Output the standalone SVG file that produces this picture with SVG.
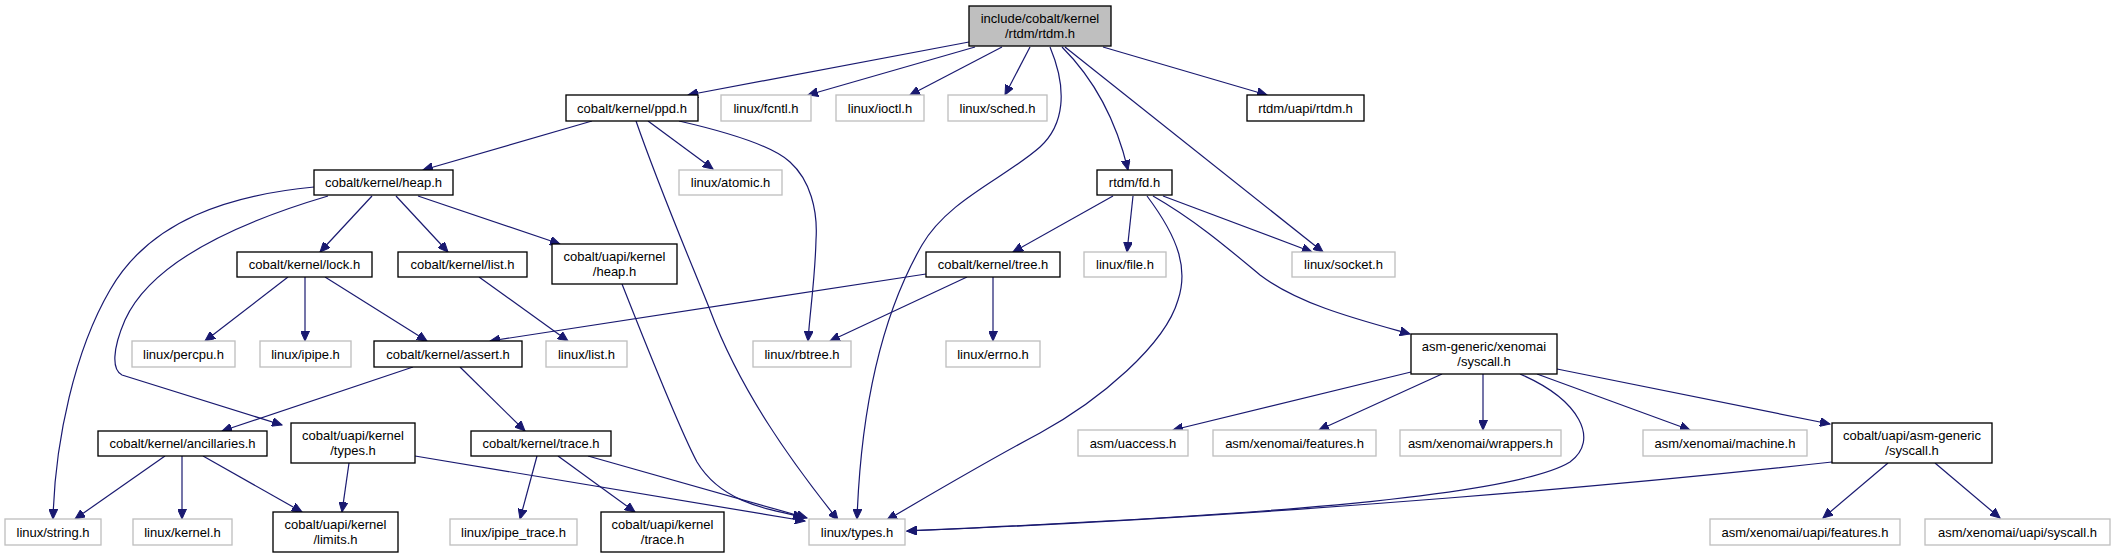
<svg xmlns="http://www.w3.org/2000/svg" width="2115" height="559" viewBox="0 0 2115 559">
<style>
text{font-family:"Liberation Sans",Arial,Helvetica,sans-serif;font-size:13px;fill:#000;text-anchor:middle}
.n rect{fill:#fff;stroke:#000;stroke-width:1.33}
.g rect{fill:#fff;stroke:#bfbfbf;stroke-width:1.33}
.top rect{fill:#bfbfbf;stroke:#000;stroke-width:1.33}
#edges path{fill:none;stroke:#191970;stroke-width:1.2;marker-end:url(#ah)}
</style>
<defs>
<marker id="ah" markerUnits="userSpaceOnUse" markerWidth="11" markerHeight="9" refX="10" refY="4.5" orient="auto">
<path d="M0,0 L10,4.5 L0,9 z" fill="#191970" stroke="#191970" stroke-width="1"/>
</marker>
</defs>
<rect width="2115" height="559" fill="#fff"/>
<g id="edges">
<path d="M969,42 L688,95"/>
<path d="M975,47 L808,95"/>
<path d="M1002,47 L910,95"/>
<path d="M1030,47 L1005,95"/>
<path d="M1050,47 C1068,90 1064,125 1040,147 C1005,178 948,200 922,245 C892,297 862,380 857,519"/>
<path d="M1062,47 C1090,75 1115,115 1128,170"/>
<path d="M1065,47 L1323,252"/>
<path d="M1103,47 L1267,95"/>
<path d="M592,121 L423,170"/>
<path d="M636,121 C660,190 690,260 710,310 C740,390 790,460 838,520"/>
<path d="M648,121 L713,169"/>
<path d="M679,121 C740,135 775,148 790,162 C810,180 818,210 816,240 C815,280 810,310 808,341"/>
<path d="M314,187 C230,195 150,220 110,290 C75,350 55,440 53,519"/>
<path d="M328,196 C230,225 150,265 125,320 C112,350 112,370 122,375 L282,425"/>
<path d="M372,196 L320,252"/>
<path d="M396,196 L448,252"/>
<path d="M418,196 L560,244"/>
<path d="M288,277 L205,341"/>
<path d="M305,277 L305,341"/>
<path d="M325,277 L427,341"/>
<path d="M479,277 L568,341"/>
<path d="M622,284 C650,355 680,430 697,462 C720,500 760,508 803,517"/>
<path d="M1113,196 L1013,252"/>
<path d="M1133,196 L1127,252"/>
<path d="M1147,196 C1180,240 1188,270 1178,300 C1165,345 1100,400 1040,433 C980,465 930,495 887,520"/>
<path d="M1153,196 C1195,220 1230,250 1260,275 C1300,305 1360,320 1410,334"/>
<path d="M1163,196 L1312,252"/>
<path d="M926,274 L490,341"/>
<path d="M967,277 L830,341"/>
<path d="M993,277 L993,341"/>
<path d="M413,367 L222,431"/>
<path d="M460,367 L525,431"/>
<path d="M165,456 L75,519"/>
<path d="M182,456 L182,519"/>
<path d="M203,456 L302,512"/>
<path d="M349,463 L342,512"/>
<path d="M415,456 L805,521"/>
<path d="M537,456 L520,519"/>
<path d="M558,456 L635,512"/>
<path d="M588,456 L807,518"/>
<path d="M1411,372 L1173,430"/>
<path d="M1442,374 L1319,430"/>
<path d="M1483,374 L1483,430"/>
<path d="M1537,374 L1690,430"/>
<path d="M1557,369 L1830,424"/>
<path d="M1520,374 C1580,400 1600,440 1570,462 C1500,505 1100,522 907,531"/>
<path d="M1832,462 C1650,482 1300,515 907,531"/>
<path d="M1888,463 L1823,518"/>
<path d="M1935,463 L2000,518"/>
</g>
<g id="n_rtdm" class="top"><rect x="969" y="6" width="142" height="40"/><text x="1040" y="22.5">include/cobalt/kernel</text><text x="1040" y="37.5">/rtdm/rtdm.h</text></g>
<g id="n_ppd" class="n"><rect x="566" y="95" width="132" height="26"/><text x="632" y="112.5">cobalt/kernel/ppd.h</text></g>
<g id="n_fcntl" class="g"><rect x="721" y="95" width="90" height="26"/><text x="766" y="112.5">linux/fcntl.h</text></g>
<g id="n_ioctl" class="g"><rect x="836" y="95" width="88" height="26"/><text x="880" y="112.5">linux/ioctl.h</text></g>
<g id="n_sched" class="g"><rect x="948" y="95" width="99" height="26"/><text x="997.5" y="112.5">linux/sched.h</text></g>
<g id="n_uapirtdm" class="n"><rect x="1247" y="95" width="117" height="26"/><text x="1305.5" y="112.5">rtdm/uapi/rtdm.h</text></g>
<g id="n_heap" class="n"><rect x="314" y="170" width="139" height="25"/><text x="383.5" y="187">cobalt/kernel/heap.h</text></g>
<g id="n_atomic" class="g"><rect x="679" y="170" width="103" height="25"/><text x="730.5" y="187">linux/atomic.h</text></g>
<g id="n_fd" class="n"><rect x="1097" y="170" width="75" height="25"/><text x="1134.5" y="187">rtdm/fd.h</text></g>
<g id="n_lock" class="n"><rect x="237" y="252" width="135" height="25"/><text x="304.5" y="269">cobalt/kernel/lock.h</text></g>
<g id="n_list" class="n"><rect x="398" y="252" width="129" height="25"/><text x="462.5" y="269">cobalt/kernel/list.h</text></g>
<g id="n_uapiheap" class="n"><rect x="552" y="244" width="125" height="40"/><text x="614.5" y="260.5">cobalt/uapi/kernel</text><text x="614.5" y="275.5">/heap.h</text></g>
<g id="n_tree" class="n"><rect x="926" y="252" width="134" height="25"/><text x="993" y="269">cobalt/kernel/tree.h</text></g>
<g id="n_file" class="g"><rect x="1084" y="252" width="82" height="25"/><text x="1125" y="269">linux/file.h</text></g>
<g id="n_socket" class="g"><rect x="1292" y="252" width="103" height="25"/><text x="1343.5" y="269">linux/socket.h</text></g>
<g id="n_percpu" class="g"><rect x="132" y="341" width="103" height="26"/><text x="183.5" y="358.5">linux/percpu.h</text></g>
<g id="n_ipipe" class="g"><rect x="260" y="341" width="91" height="26"/><text x="305.5" y="358.5">linux/ipipe.h</text></g>
<g id="n_assert" class="n"><rect x="374" y="341" width="148" height="26"/><text x="448" y="358.5">cobalt/kernel/assert.h</text></g>
<g id="n_llist" class="g"><rect x="546" y="341" width="81" height="26"/><text x="586.5" y="358.5">linux/list.h</text></g>
<g id="n_rbtree" class="g"><rect x="753" y="341" width="98" height="26"/><text x="802" y="358.5">linux/rbtree.h</text></g>
<g id="n_errno" class="g"><rect x="946" y="341" width="94" height="26"/><text x="993" y="358.5">linux/errno.h</text></g>
<g id="n_syscall" class="n"><rect x="1411" y="334" width="146" height="40"/><text x="1484" y="350.5">asm-generic/xenomai</text><text x="1484" y="365.5">/syscall.h</text></g>
<g id="n_anc" class="n"><rect x="98" y="431" width="169" height="25"/><text x="182.5" y="448">cobalt/kernel/ancillaries.h</text></g>
<g id="n_uapitypes" class="n"><rect x="291" y="423" width="124" height="40"/><text x="353" y="439.5">cobalt/uapi/kernel</text><text x="353" y="454.5">/types.h</text></g>
<g id="n_trace" class="n"><rect x="471" y="431" width="140" height="25"/><text x="541" y="448">cobalt/kernel/trace.h</text></g>
<g id="n_uaccess" class="g"><rect x="1078" y="430" width="110" height="26"/><text x="1133" y="447.5">asm/uaccess.h</text></g>
<g id="n_features" class="g"><rect x="1213" y="430" width="163" height="26"/><text x="1294.5" y="447.5">asm/xenomai/features.h</text></g>
<g id="n_wrappers" class="g"><rect x="1400" y="430" width="161" height="26"/><text x="1480.5" y="447.5">asm/xenomai/wrappers.h</text></g>
<g id="n_machine" class="g"><rect x="1643" y="430" width="164" height="26"/><text x="1725" y="447.5">asm/xenomai/machine.h</text></g>
<g id="n_uapisyscall" class="n"><rect x="1832" y="423" width="160" height="40"/><text x="1912" y="439.5">cobalt/uapi/asm-generic</text><text x="1912" y="454.5">/syscall.h</text></g>
<g id="n_string" class="g"><rect x="5" y="519" width="96" height="26"/><text x="53" y="536.5">linux/string.h</text></g>
<g id="n_kernel" class="g"><rect x="133" y="519" width="99" height="26"/><text x="182.5" y="536.5">linux/kernel.h</text></g>
<g id="n_limits" class="n"><rect x="273" y="512" width="125" height="40"/><text x="335.5" y="528.5">cobalt/uapi/kernel</text><text x="335.5" y="543.5">/limits.h</text></g>
<g id="n_ipipetrace" class="g"><rect x="450" y="519" width="127" height="26"/><text x="513.5" y="536.5">linux/ipipe_trace.h</text></g>
<g id="n_uapitrace" class="n"><rect x="601" y="512" width="123" height="40"/><text x="662.5" y="528.5">cobalt/uapi/kernel</text><text x="662.5" y="543.5">/trace.h</text></g>
<g id="n_types" class="g"><rect x="809" y="519" width="96" height="26"/><text x="857" y="536.5">linux/types.h</text></g>
<g id="n_uapifeatures" class="g"><rect x="1710" y="519" width="190" height="26"/><text x="1805" y="536.5">asm/xenomai/uapi/features.h</text></g>
<g id="n_uapisys" class="g"><rect x="1925" y="519" width="185" height="26"/><text x="2017.5" y="536.5">asm/xenomai/uapi/syscall.h</text></g>
</svg>
